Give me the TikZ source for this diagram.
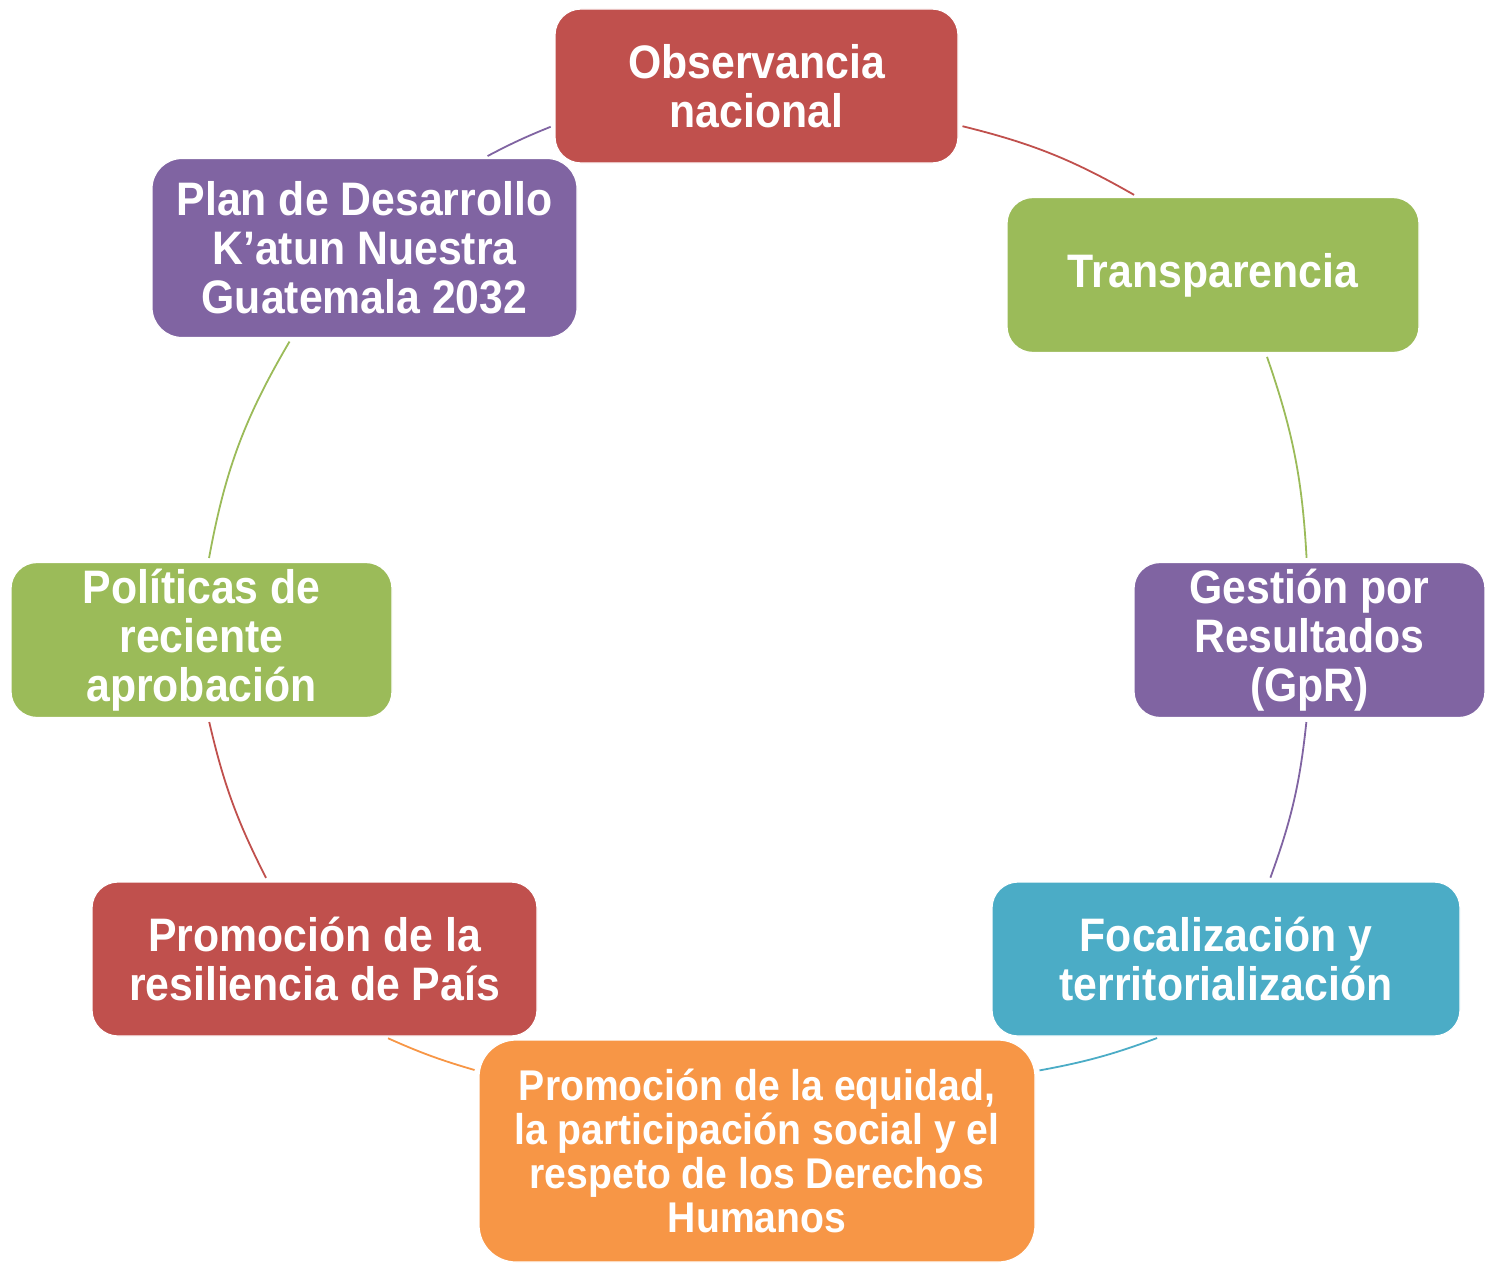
\documentclass[tikz,border=0pt]{standalone}
\usepackage{fontspec}
\newfontfamily\boxfont[FakeStretch=0.91]{Liberation Sans}
\definecolor{cred}{HTML}{C0504D}
\definecolor{cgreen}{HTML}{9BBB59}
\definecolor{cpurple}{HTML}{8064A2}
\definecolor{cblue}{HTML}{4BACC6}
\definecolor{corange}{HTML}{F79646}
\begin{document}
\begin{tikzpicture}[x=1pt,y=-1pt,
  cyclebox/.style={draw=white, line width=1.2pt, rounded corners=26pt, inner sep=0pt,
    align=center, text=white, font=\boxfont\bfseries\fontsize{47}{49}\selectfont},
  link/.style={line width=1.8pt, shorten <=4pt, shorten >=4pt}]
\useasboundingbox (0,0) rectangle (1485,1263);

\node[cyclebox, fill=cred, minimum width=403pt, minimum height=154pt] (obs) at (756.5,86) {Observancia\\nacional};
\node[cyclebox, fill=cgreen, minimum width=412pt, minimum height=155pt] (tra) at (1213,275) {Transparencia};
\node[cyclebox, fill=cpurple, minimum width=351pt, minimum height=155pt] (ges) at (1309.5,640) {Gesti\'on por\\Resultados\\(GpR)};
\node[cyclebox, fill=cblue, minimum width=468pt, minimum height=154pt] (foc) at (1226,959) {Focalizaci\'on y\\territorializaci\'on};
\node[cyclebox, fill=corange, minimum width=556pt, minimum height=222pt, rounded corners=37pt,
  font=\boxfont\bfseries\fontsize{43}{44}\selectfont] (equ) at (757,1151)
  {Promoci\'on de la equidad,\\la participaci\'on social y el\\respeto de los Derechos\\Humanos};
\node[cyclebox, fill=cred, minimum width=445pt, minimum height=154pt] (res) at (314.5,959) {Promoci\'on de la\\resiliencia de Pa\'is};
\node[cyclebox, fill=cgreen, minimum width=381pt, minimum height=155pt] (pol) at (201.5,640) {Pol\'iticas de\\reciente\\aprobaci\'on};
\node[cyclebox, fill=cpurple, minimum width=425pt, minimum height=179pt, rounded corners=30pt] (pla) at (364.5,248) {Plan de Desarrollo\\K’atun Nuestra\\Guatemala 2032};

\draw[link, draw=cpurple] (pla.37) to[bend left=3] (obs.191);
\draw[link, draw=cred] (obs.-11) to[bend left=8] (tra.134);
\draw[link, draw=cgreen] (tra.-56) to[bend left=8] (ges.92);
\draw[link, draw=cpurple] (ges.-92) to[bend left=7] (foc.61);
\draw[link, draw=cblue] (foc.230) to[bend left=5] (equ.16);
\draw[link, draw=corange] (equ.164) to[bend left=4] (res.-48);
\draw[link, draw=cred] (res.121) to[bend left=7] (pol.-85);
\draw[link, draw=cgreen] (pol.85) to[bend left=10] (pla.231);
\end{tikzpicture}
\end{document}
